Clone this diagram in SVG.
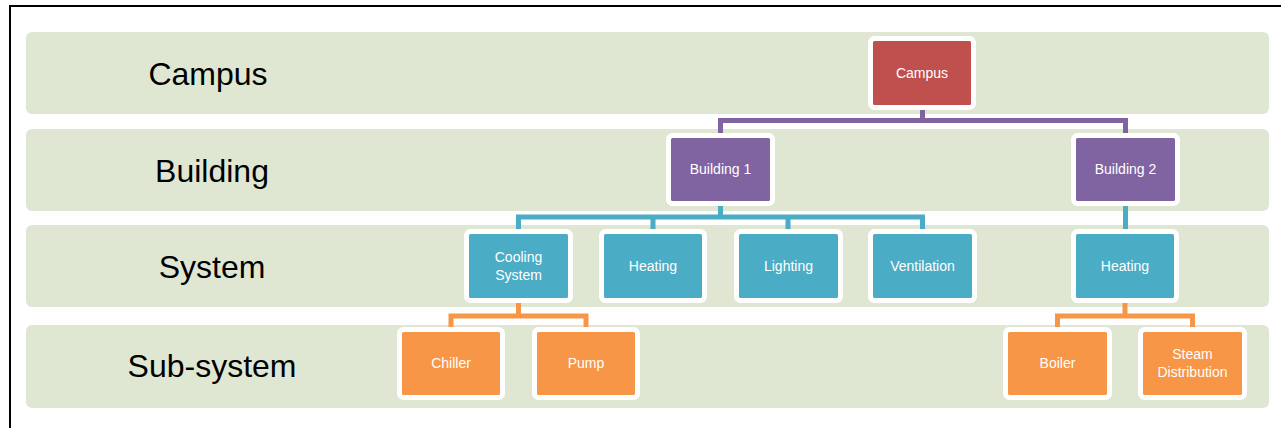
<svg xmlns="http://www.w3.org/2000/svg" width="1283" height="428" viewBox="0 0 1283 428">
<style>
.band{fill:#DFE7D3}
.lbl{font-family:"Liberation Sans",Arial,sans-serif;font-size:32px;fill:#000;text-anchor:middle}
.nt{font-family:"Liberation Sans",Arial,sans-serif;font-size:14px;fill:#fff;text-anchor:middle}
.box{stroke:#fff;stroke-width:5}
.red{fill:#C0504D}.pur{fill:#8064A2}.blu{fill:#4BACC6}.org{fill:#F79646}
.c{fill:none;stroke-width:5;stroke-linejoin:miter}
</style>
<rect width="1283" height="428" fill="#fff"/>
<path d="M10 428 V6 H1281" fill="none" stroke="#000" stroke-width="2"/>
<g id="bands">
<rect class="band" x="26" y="32" width="1243" height="82" rx="6"/>
<rect class="band" x="26" y="129" width="1243" height="82" rx="6"/>
<rect class="band" x="26" y="225" width="1243" height="82" rx="6"/>
<rect class="band" x="26" y="325" width="1243" height="83" rx="6"/>
</g>
<g id="labels">
<text class="lbl" x="208" y="85">Campus</text>
<text class="lbl" x="212" y="182">Building</text>
<text class="lbl" x="212" y="278">System</text>
<text class="lbl" x="212" y="377">Sub-system</text>
</g>
<g id="connectors">
<path class="c" stroke="#8064A2" d="M922.5 110 V120.5 H720.5 V134 M922.5 120.5 H1125.5 V134"/>
<path class="c" stroke="#4BACC6" d="M720.5 206 V217 H518.5 V230 M720.5 217 H922.5 V230 M653 217 V230 M788 217 V230"/>
<path class="c" stroke="#4BACC6" d="M1125.5 206 V230"/>
<path class="c" stroke="#F79646" d="M518.5 303 V316 H451 V328 M518.5 316 H586 V328"/>
<path class="c" stroke="#F79646" d="M1125 303 V316 H1057.5 V328 M1125 316 H1192.5 V328"/>
</g>
<g id="n-campus"><rect class="box red" x="870.5" y="38.5" width="103" height="69" rx="4"/><text class="nt" x="922" y="78">Campus</text></g>
<g id="n-building1"><rect class="box pur" x="668.5" y="135.5" width="104" height="68" rx="4"/><text class="nt" x="720.5" y="174">Building 1</text></g>
<g id="n-building2"><rect class="box pur" x="1073.5" y="135.5" width="104" height="68" rx="4"/><text class="nt" x="1125.5" y="174">Building 2</text></g>
<g id="n-cooling"><rect class="box blu" x="466.5" y="231.5" width="104" height="69" rx="4"/><text class="nt" x="518.5" y="262">Cooling</text><text class="nt" x="518.5" y="280">System</text></g>
<g id="n-heating1"><rect class="box blu" x="601.5" y="231.5" width="103" height="69" rx="4"/><text class="nt" x="653" y="271">Heating</text></g>
<g id="n-lighting"><rect class="box blu" x="736.5" y="231.5" width="104" height="69" rx="4"/><text class="nt" x="788.5" y="271">Lighting</text></g>
<g id="n-ventilation"><rect class="box blu" x="870.5" y="231.5" width="104" height="69" rx="4"/><text class="nt" x="922.5" y="271">Ventilation</text></g>
<g id="n-heating2"><rect class="box blu" x="1073.5" y="231.5" width="103" height="69" rx="4"/><text class="nt" x="1125" y="271">Heating</text></g>
<g id="n-chiller"><rect class="box org" x="399.5" y="329.5" width="103" height="68" rx="4"/><text class="nt" x="451" y="368">Chiller</text></g>
<g id="n-pump"><rect class="box org" x="534.5" y="329.5" width="103" height="68" rx="4"/><text class="nt" x="586" y="368">Pump</text></g>
<g id="n-boiler"><rect class="box org" x="1005.5" y="329.5" width="104" height="68" rx="4"/><text class="nt" x="1057.5" y="368">Boiler</text></g>
<g id="n-steam"><rect class="box org" x="1140.5" y="329.5" width="104" height="68" rx="4"/><text class="nt" x="1192.5" y="359">Steam</text><text class="nt" x="1192.5" y="377">Distribution</text></g>
</svg>
